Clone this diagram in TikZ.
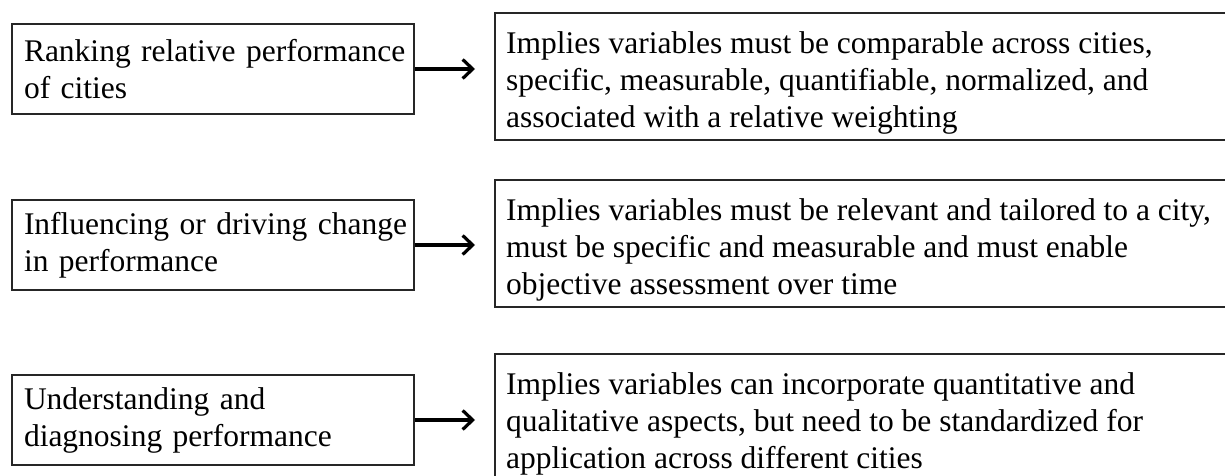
\documentclass[tikz,border=0pt]{standalone}
\usepackage{fontspec}
\setmainfont{Liberation Serif}
\usetikzlibrary{arrows.meta}
\begin{document}
\begin{tikzpicture}[x=1pt,y=1pt,
  every node/.style={font=\fontsize{31.5}{37}\selectfont},
  leftbox/.style={draw=black!85, line width=2pt, minimum width=402pt, minimum height=90pt, text width=378pt, inner xsep=12pt, inner ysep=0pt, align=left, anchor=north west},
  rightbox/.style={draw=black!85, line width=2pt, minimum width=760pt, minimum height=127pt, anchor=north west, inner sep=0pt},
  rtext/.style={anchor=north west, align=left, inner sep=0pt},
  conn/.style={-{Straight Barb[length=10pt,width=19pt,line width=3.2pt]}, line width=3.2pt, shorten >=19pt}
]
\useasboundingbox (0,0) rectangle (1225,-476);
\node[leftbox] (l1) at (11,-23) {\mbox{Ranking relative performance}\\\mbox{of cities}};
\node[leftbox] (l2) at (11,-199) {\mbox{Influencing or driving change}\\\mbox{in performance}};
\node[leftbox] (l3) at (11,-374) {\mbox{Understanding and}\\\mbox{diagnosing performance}};
\node[rightbox] (r1) at (494,-12) {};
\node[rightbox] (r2) at (494,-179) {};
\node[rightbox] (r3) at (494,-353) {};
\node[rtext] (t1) at ([xshift=12pt,yshift=-19.5pt]r1.north west) {Implies variables must be comparable across cities,\\specific, measurable, quantifiable, normalized, and\\associated with a relative weighting};
\node[rtext] (t2) at ([xshift=12pt,yshift=-19.5pt]r2.north west) {Implies variables must be relevant and tailored to a city,\\must be specific and measurable and must enable\\objective assessment over time};
\node[rtext] (t3) at ([xshift=12pt,yshift=-19.5pt]r3.north west) {Implies variables can incorporate quantitative and\\qualitative aspects, but need to be standardized for\\application across different cities};
\draw[conn] (l1.east) -- (l1.east -| r1.west);
\draw[conn] (l2.east) -- (l2.east -| r2.west);
\draw[conn] (l3.east) -- (l3.east -| r3.west);
\end{tikzpicture}
\end{document}
